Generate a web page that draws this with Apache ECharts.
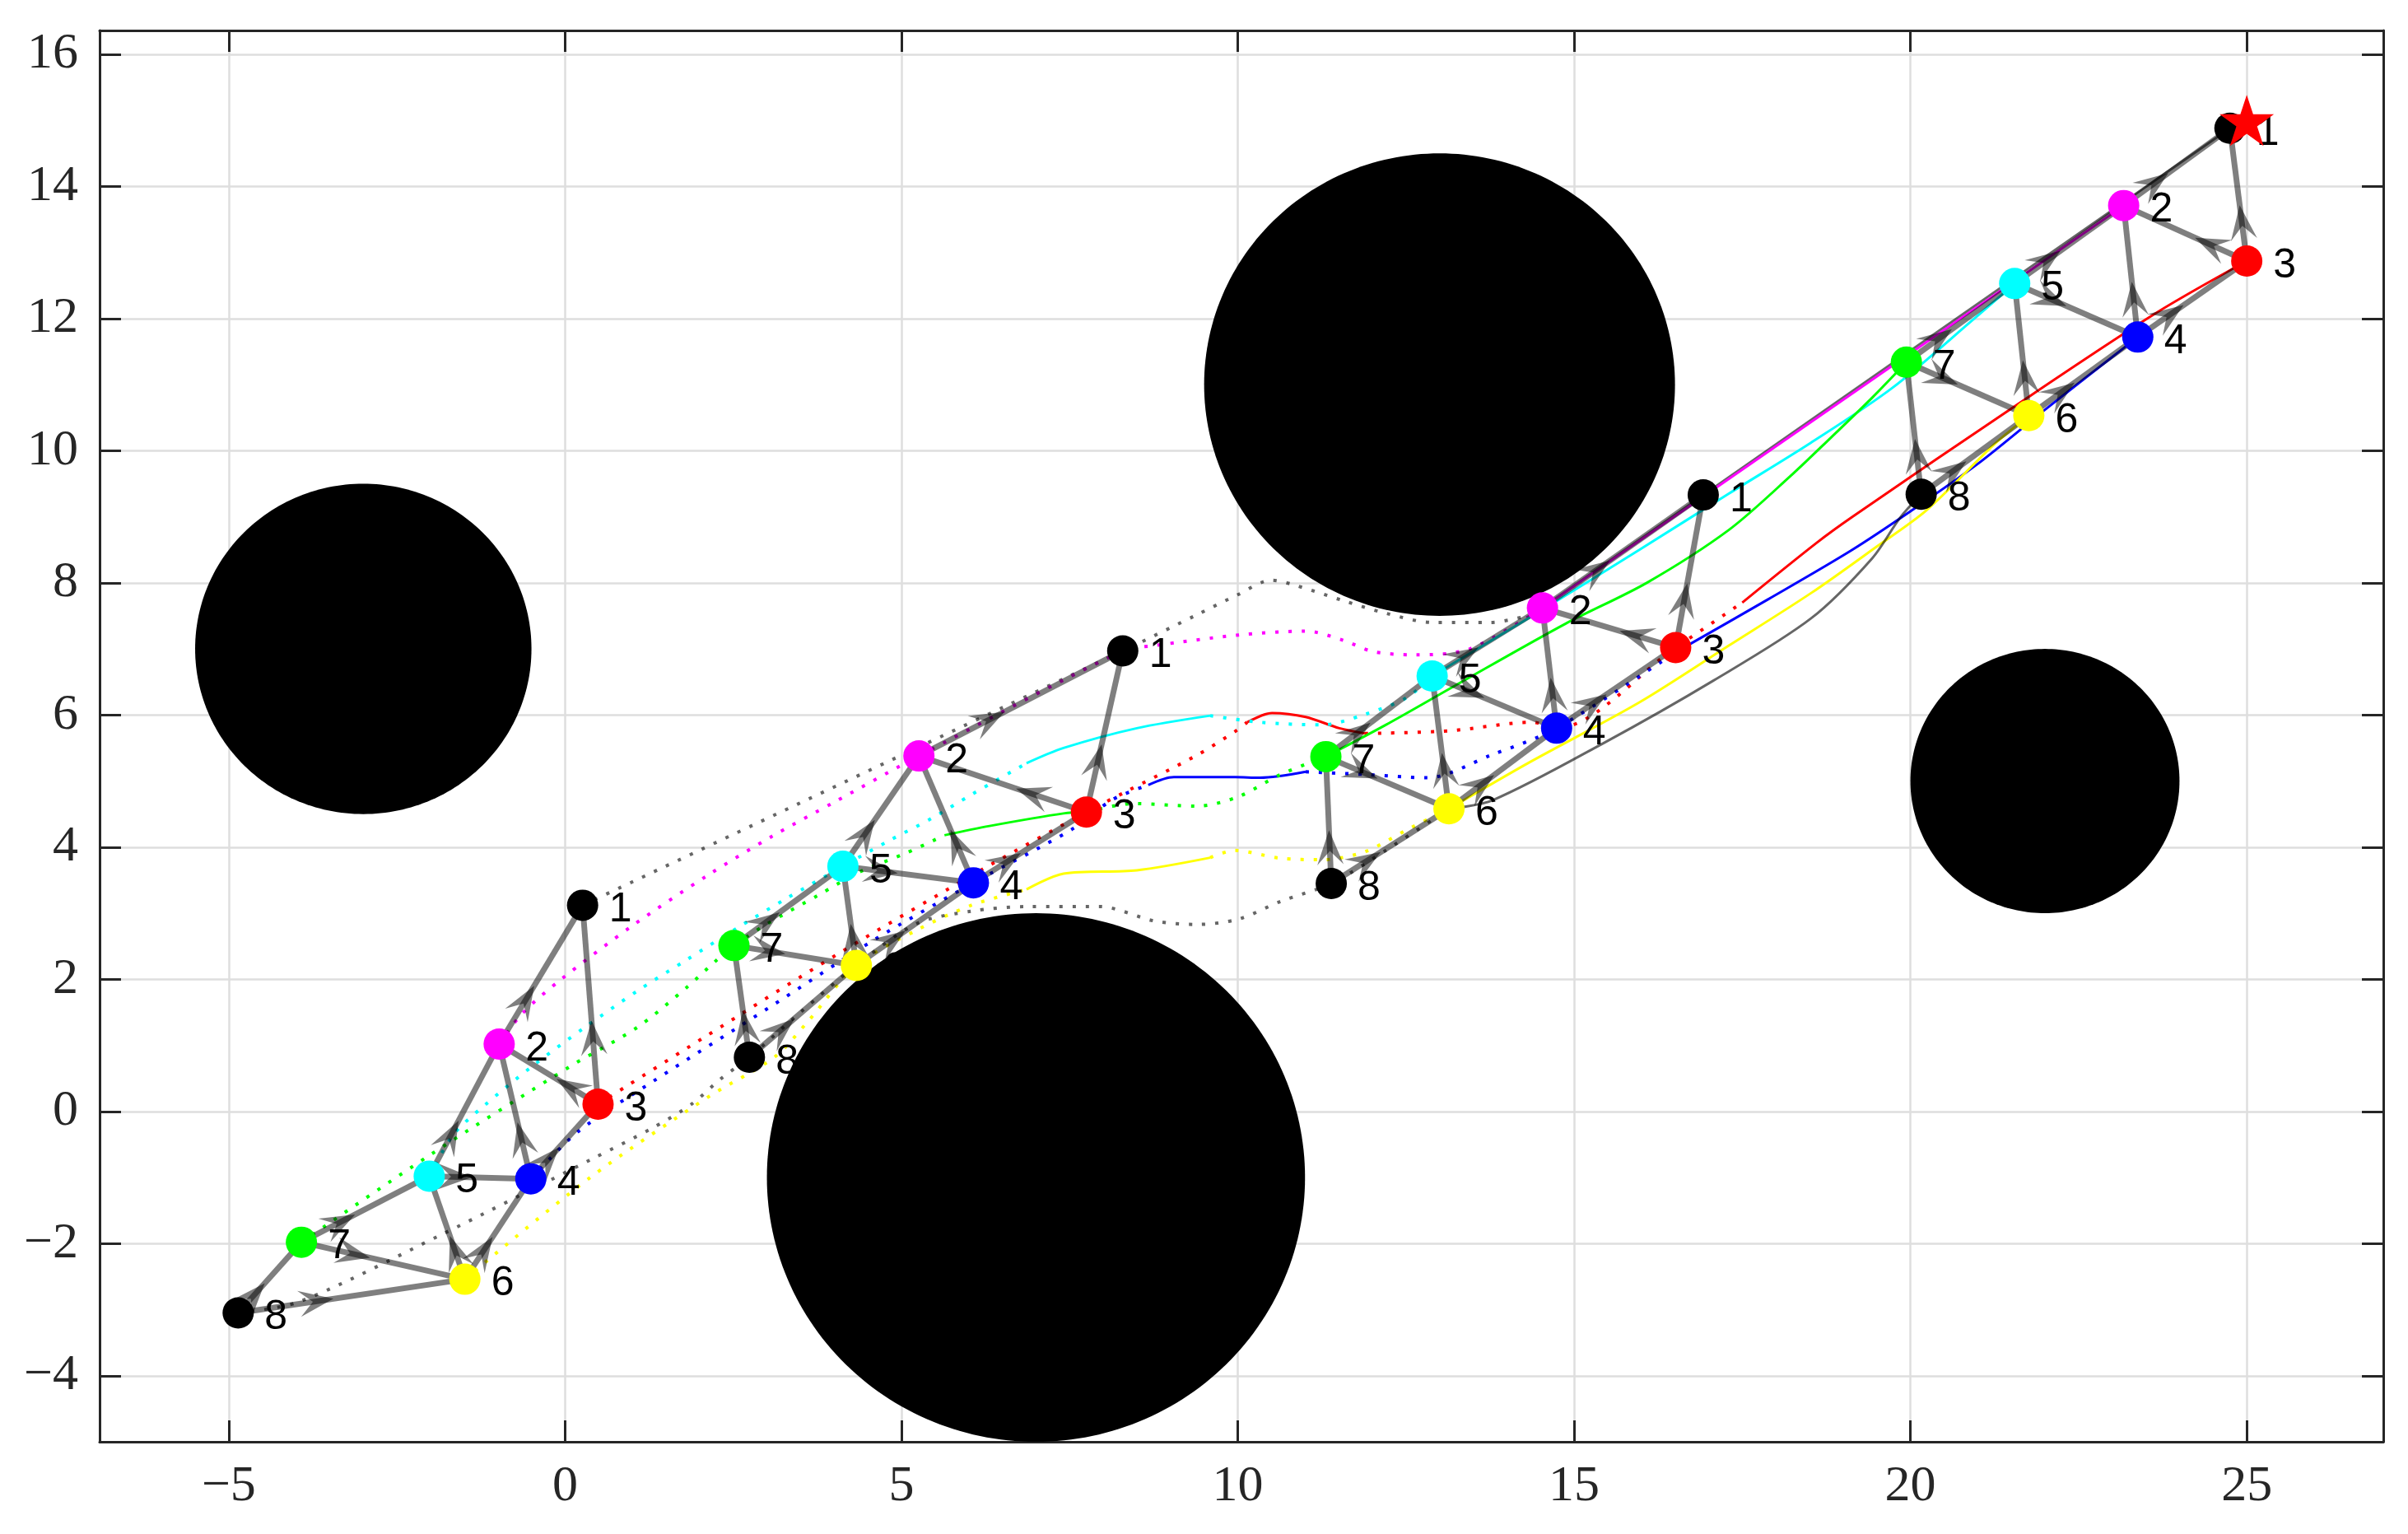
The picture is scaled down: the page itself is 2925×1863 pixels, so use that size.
<!DOCTYPE html>
<html>
<head>
<meta charset="utf-8">
<script src="https://cdn.jsdelivr.net/npm/echarts@6/dist/echarts.min.js"></script>
<style>
html,body{margin:0;padding:0;background:#fff;}
#chart{width:2925px;height:1863px;}
</style>
</head>
<body>
<div id="chart"></div>
<script>
// ---------------- data ----------------
const agentLabels = ['1','2','3','4','5','6','7','8'];
const agentColors = ['#000000','#ff00ff','#ff0000','#0000ff','#00ffff','#ffff00','#00ff00','#000000'];

// formation snapshots (agent 1..8)
const snapA = [[0.26,3.12],[-0.98,1.02],[0.49,0.11],[-0.51,-1.02],[-2.02,-0.98],[-1.49,-2.54],[-3.92,-1.98],[-4.86,-3.05]];
const snapB = [[8.29,6.97],[5.26,5.38],[7.75,4.53],[6.07,3.46],[4.13,3.71],[4.33,2.21],[2.51,2.51],[2.74,0.82]];
const snapC = [[16.92,9.33],[14.53,7.62],[16.51,7.02],[14.74,5.80],[12.89,6.59],[13.14,4.58],[11.31,5.37],[11.39,3.45]];
const snapD = [[24.75,14.88],[23.17,13.71],[25.0,12.87],[23.38,11.72],[21.55,12.53],[21.76,10.53],[19.94,11.34],[20.16,9.34]];

// directed formation edges [from, to]
const edges = [[2,1],[3,1],[3,2],[4,2],[4,3],[5,2],[5,4],[6,4],[6,5],[7,5],[7,6],[8,6],[8,7]];

// target
const target = [25, 15];

// obstacles
const obstacleX = [-3, 13, 7, 22];
const obstacleY = [7, 11, -1, 5];
const obstacleR = [2.5, 3.5, 4, 2];

// trajectories: dotted and solid pieces per agent
const traj1Dotted = [[[0.26,3.12],[8.29,6.97],[9.4,7.52],[10.0,7.82],[10.5,8.04],[10.8,7.98],[11.6,7.72],[12.2,7.54],[12.9,7.40],[13.76,7.40],[14.38,7.52]]];
const traj1Solid  = [[[14.38,7.52],[14.53,7.62],[16.92,9.33],[24.75,14.88]]];

const traj2Dotted = [[[-0.98,1.02],[-0.64,1.48],[-0.07,1.99],[1.0,2.81],[2.13,3.58],[3.07,4.16],[4.0,4.68],[5.26,5.38],[8.29,6.97],[8.76,7.05],[10.01,7.21],[11.01,7.27],[11.57,7.13],[12.01,6.96],[12.63,6.91],[13.45,7.0],[14.53,7.62]]];
const traj2Solid  = [[[14.53,7.62],[23.17,13.71]]];

const traj3Dotted = [
  [[0.49,0.11],[2.05,1.11],[4.05,2.38],[6.25,3.69],[7.75,4.53],[8.3,4.82],[9.39,5.39],[9.96,5.75],[10.14,5.89]],
  [[11.89,5.72],[13.14,5.76],[14.38,5.89],[14.74,5.80],[16.51,7.02],[17.5,7.7]]
];
const traj3Solid = [
  [[10.14,5.89],[10.51,6.03],[11.01,5.97],[11.51,5.80],[11.89,5.72]],
  [[17.5,7.7],[18.6,8.6],[19.14,9.0],[21.59,10.70],[23.63,12.07],[25.0,12.87]]
];

const traj4Dotted = [
  [[-0.51,-1.02],[0.2,-0.3],[1.3,0.45],[3.03,1.57],[4.6,2.6],[6.07,3.46],[7.52,4.26],[8.14,4.72],[8.67,4.94]],
  [[11.01,5.14],[11.89,5.10],[12.82,5.05],[13.76,5.39],[14.74,5.80],[16.51,6.95]]
];
const traj4Solid = [
  [[8.67,4.94],[9.05,5.06],[9.96,5.06],[10.33,5.05],[11.01,5.14]],
  [[16.51,6.95],[17.9,7.76],[19.12,8.49],[20.04,9.11],[21.0,9.8],[22.0,10.62],[23.38,11.72]]
];

const traj5Dotted = [
  [[-2.02,-0.98],[-1.66,-0.35],[-1.2,0.09],[-0.48,0.69],[0.29,1.27],[1.07,1.82],[1.80,2.29],[2.58,2.79],[3.27,3.21],[4.13,3.71],[4.82,4.10],[5.44,4.43],[6.05,4.80],[6.86,5.27]],
  [[9.59,5.99],[10.33,5.89],[11.26,5.85],[11.89,6.01],[12.51,6.26],[12.89,6.59]]
];
const traj5Solid = [
  [[6.86,5.27],[7.41,5.50],[8.50,5.80],[9.59,5.99]],
  [[12.89,6.59],[13.79,7.14],[14.54,7.6],[15.97,8.5],[17.30,9.35],[18.52,10.12],[19.73,10.95],[20.95,12.0],[21.55,12.53]]
];

const traj6Dotted = [
  [[-1.49,-2.54],[0.36,-1.01],[2.13,0.22],[3.11,0.82],[3.6,1.35],[4.33,2.21],[5.22,2.74],[6.04,3.12],[6.86,3.36]],
  [[9.59,3.84],[9.95,3.95],[10.64,3.83],[11.26,3.81],[11.89,3.93],[12.51,4.26],[13.14,4.58]]
];
const traj6Solid = [
  [[6.86,3.36],[7.41,3.60],[8.50,3.65],[9.59,3.84]],
  [[13.14,4.58],[14.33,5.28],[15.97,6.19],[17.30,7.05],[18.53,7.85],[19.5,8.55],[20.24,9.1],[21.25,10.1],[21.76,10.53]]
];

const traj7Dotted = [
  [[-3.92,-1.98],[-2.01,-0.66],[0.09,0.69],[1.07,1.27],[1.8,1.87],[2.21,2.25],[2.51,2.51],[2.99,2.83],[3.76,3.27],[4.37,3.62],[5.07,3.91],[5.64,4.18]],
  [[7.75,4.53],[8.45,4.66],[9.39,4.62],[10.0,4.76],[10.64,5.10],[11.31,5.37]]
];
const traj7Solid = [
  [[5.64,4.18],[6.31,4.32],[7.41,4.51],[7.75,4.53]],
  [[11.31,5.37],[12.2,5.85],[13.24,6.45],[14.87,7.38],[16.08,8.0],[17.30,8.8],[18.21,9.61],[18.82,10.2],[19.43,10.8],[19.94,11.34]]
];

const traj8Dotted = [[[-4.86,-3.05],[-3.95,-2.88],[-1.87,-1.88],[0.40,-0.72],[1.3,-0.25],[1.88,0.11],[2.31,0.49],[2.74,0.82],[3.5,1.5],[4.33,2.21],[5.22,2.84],[6.04,3.03],[6.86,3.10],[7.95,3.10],[8.77,2.88],[9.39,2.83],[10.01,2.91],[10.64,3.18],[11.39,3.45],[12.2,3.95],[13.14,4.58]]];
const traj8Solid  = [[[13.14,4.58],[13.79,4.71],[15.43,5.57],[17.07,6.52],[18.52,7.46],[19.43,8.37],[19.85,8.99],[20.16,9.34]]];

// axis ticks
const xTickStep = 5;
const yTickStep = 2;

// ---------------- build ----------------
const snapshots = [snapA, snapB, snapC, snapD];
const trajDotted = [traj1Dotted, traj2Dotted, traj3Dotted, traj4Dotted, traj5Dotted, traj6Dotted, traj7Dotted, traj8Dotted];
const trajSolid  = [traj1Solid, traj2Solid, traj3Solid, traj4Solid, traj5Solid, traj6Solid, traj7Solid, traj8Solid];

function trajColor(i) {
  if (i === 0 || i === 7) return 'rgba(0,0,0,0.6)';
  return agentColors[i];
}

const series = [];

// obstacles
series.push({
  type: 'custom',
  z: 1,
  silent: true,
  data: obstacleX.map((x, i) => [x, obstacleY[i], obstacleR[i]]),
  encode: {x: 0, y: 1},
  renderItem: function (params, api) {
    const cx = api.value(0), cy = api.value(1), r = api.value(2);
    const pts = [];
    for (let k = 0; k < 240; k++) {
      const t = 2 * Math.PI * k / 240;
      pts.push(api.coord([cx + r * Math.cos(t), cy + r * Math.sin(t)]));
    }
    return {type: 'polygon', shape: {points: pts}, style: {fill: '#000000'}};
  }
});

// trajectories
for (let i = 0; i < 8; i++) {
  trajDotted[i].forEach(piece => {
    series.push({
      type: 'line', z: 2, silent: true, showSymbol: false, symbol: 'none', smooth: 0.3,
      data: piece,
      lineStyle: {color: trajColor(i), width: 4, type: [4, 12], cap: 'butt', opacity: 1}
    });
  });
  trajSolid[i].forEach(piece => {
    series.push({
      type: 'line', z: 2, silent: true, showSymbol: false, symbol: 'none', smooth: 0.3,
      data: piece,
      lineStyle: {color: trajColor(i), width: 3, type: 'solid', opacity: 1}
    });
  });
}

// formation edges with arrow heads
const edgeData = [];
snapshots.forEach(s => {
  edges.forEach(e => {
    const a = s[e[0] - 1], b = s[e[1] - 1];
    edgeData.push([a[0], a[1], b[0], b[1]]);
  });
});
series.push({
  type: 'custom',
  z: 3,
  silent: true,
  data: edgeData,
  encode: {x: [0, 2], y: [1, 3]},
  renderItem: function (params, api) {
    const p1 = api.coord([api.value(0), api.value(1)]);
    const p2 = api.coord([api.value(2), api.value(3)]);
    const dx = p2[0] - p1[0], dy = p2[1] - p1[1];
    const len = Math.hypot(dx, dy) || 1;
    const ux = dx / len, uy = dy / len, nx = -uy, ny = ux;
    const tip = [p1[0] + dx * 0.42, p1[1] + dy * 0.42];
    const L = 42, W = 16;
    const back = [tip[0] - ux * L, tip[1] - uy * L];
    const notch = [tip[0] - ux * L * 0.6, tip[1] - uy * L * 0.6];
    return {
      type: 'group',
      children: [
        {type: 'line', shape: {x1: p1[0], y1: p1[1], x2: p2[0], y2: p2[1]},
         style: {stroke: 'rgba(0,0,0,0.5)', lineWidth: 7}},
        {type: 'polygon', shape: {points: [tip, [back[0] + nx * W, back[1] + ny * W], notch, [back[0] - nx * W, back[1] - ny * W]]},
         style: {fill: 'rgba(0,0,0,0.5)'}}
      ]
    };
  }
});

// agents
const dotData = [];
snapshots.forEach(s => {
  s.forEach((p, i) => {
    dotData.push({value: p, name: agentLabels[i], itemStyle: {color: agentColors[i], opacity: 1}});
  });
});
series.push({
  type: 'scatter',
  z: 4,
  silent: true,
  symbol: 'circle',
  symbolSize: 38,
  itemStyle: {opacity: 1},
  data: dotData,
  label: {
    show: true, position: 'right', distance: 13, offset: [0, 6],
    formatter: '{b}', color: '#000', fontSize: 50, fontFamily: 'Liberation Sans, Arial, sans-serif'
  }
});

// target star
series.push({
  type: 'scatter',
  z: 5,
  silent: true,
  symbol: 'path://M50,0 L61.2,34.5 L97.6,34.5 L68.2,55.9 L79.4,90.5 L50,69.1 L20.6,90.5 L31.8,55.9 L2.4,34.5 L38.8,34.5 Z',
  symbolSize: [66, 62],
  itemStyle: {color: '#ff0000', opacity: 1},
  data: [target]
});

function fmtTick(step) {
  return function (v) {
    if (Math.abs(v - Math.round(v / step) * step) > 1e-6) return '';
    return String(Math.round(v)).replace('-', '\u2212');
  };
}

const axisLineStyle = {color: '#262626', width: 3};
const gridLineStyle = {color: '#dedede', width: 2.5};
const labelFont = {fontSize: 62, fontFamily: 'Liberation Serif, DejaVu Serif, serif', color: '#262626'};

const option = {
  animation: false,
  backgroundColor: '#ffffff',
  grid: {left: 121, top: 37, width: 2774, height: 1714, containLabel: false},
  xAxis: [
    {
      type: 'value', position: 'bottom', min: -6.92, max: 27.03, splitNumber: 6,
      minInterval: xTickStep, maxInterval: xTickStep,
      axisLine: {show: true, onZero: false, lineStyle: axisLineStyle},
      axisTick: {show: true, inside: true, length: 26, lineStyle: axisLineStyle},
      axisLabel: Object.assign({show: true, margin: 24, formatter: fmtTick(xTickStep)}, labelFont),
      splitLine: {show: true, lineStyle: gridLineStyle}
    },
    {
      type: 'value', position: 'top', min: -6.92, max: 27.03, splitNumber: 6,
      minInterval: xTickStep, maxInterval: xTickStep,
      axisLine: {show: true, onZero: false, lineStyle: axisLineStyle},
      axisTick: {show: true, inside: true, length: 26, lineStyle: axisLineStyle},
      axisLabel: {show: false},
      splitLine: {show: false}
    }
  ],
  yAxis: [
    {
      type: 'value', position: 'left', min: -5, max: 16.36, splitNumber: 10,
      minInterval: yTickStep, maxInterval: yTickStep,
      axisLine: {show: true, onZero: false, lineStyle: axisLineStyle},
      axisTick: {show: true, inside: true, length: 26, lineStyle: axisLineStyle},
      axisLabel: Object.assign({show: true, margin: 26, formatter: fmtTick(yTickStep)}, labelFont),
      splitLine: {show: true, lineStyle: gridLineStyle}
    },
    {
      type: 'value', position: 'right', min: -5, max: 16.36, splitNumber: 10,
      minInterval: yTickStep, maxInterval: yTickStep,
      axisLine: {show: true, onZero: false, lineStyle: axisLineStyle},
      axisTick: {show: true, inside: true, length: 26, lineStyle: axisLineStyle},
      axisLabel: {show: false},
      splitLine: {show: false}
    }
  ],
  series: series
};

const chart = echarts.init(document.getElementById('chart'), null, {renderer: 'canvas', width: 2925, height: 1863});
chart.setOption(option);
</script>
</body>
</html>
